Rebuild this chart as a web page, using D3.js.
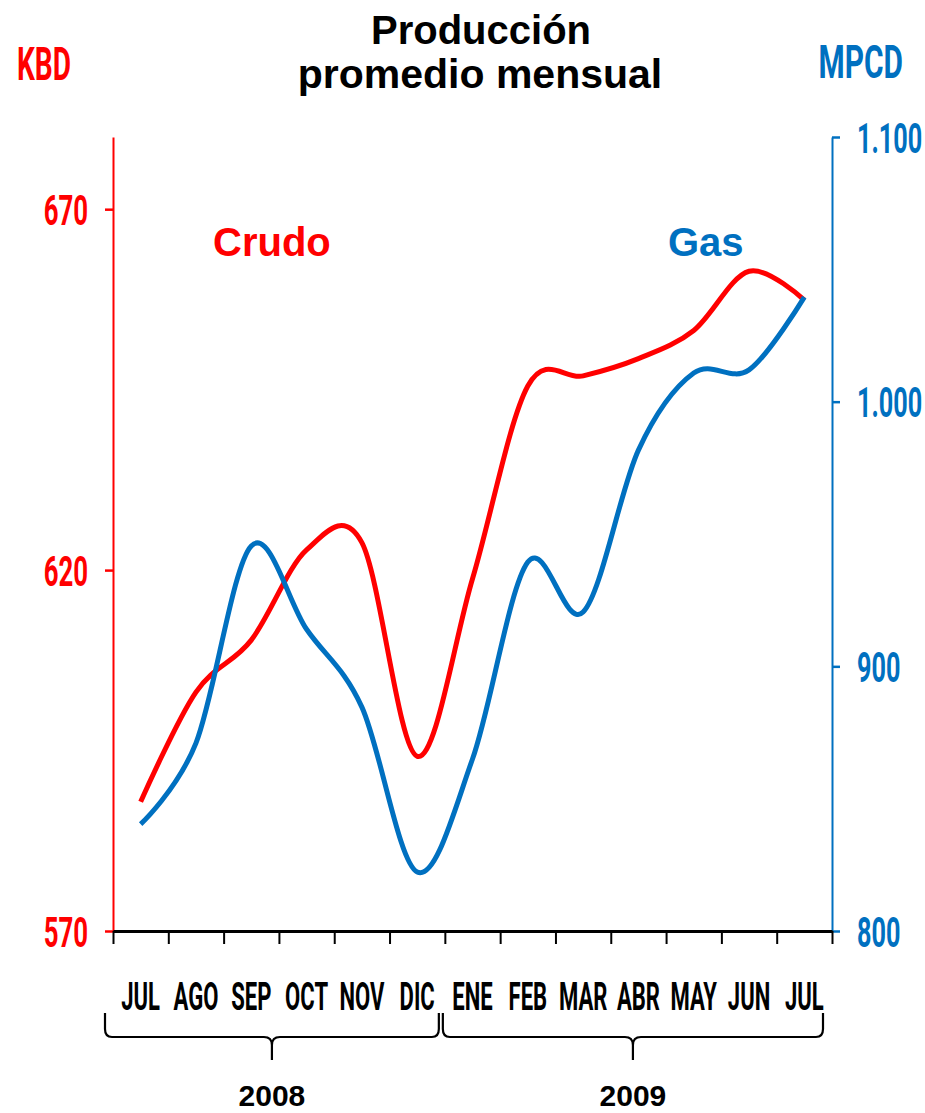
<!DOCTYPE html>
<html><head><meta charset="utf-8">
<script src="https://cdn.jsdelivr.net/npm/d3@7"></script>
<style>body{margin:0;background:#fff}svg{display:block}</style>
</head><body><svg id="c" width="925" height="1113"></svg>
<script>
// ---- data ----
const months = ["JUL","AGO","SEP","OCT","NOV","DIC","ENE","FEB","MAR","ABR","MAY","JUN","JUL"];
const years = ["2008","2009"];
const yearFirstMonth = [0, 6];
const yearLastMonth = [5, 12];
const crudo = [587.9, 603.1, 610.3, 622.8, 623.8, 594.2, 618.8, 645.5, 646.9, 649.3, 653.2, 661.4, 657.4];
const gas = [840.4, 871.0, 945.5, 914.0, 884.6, 822.3, 865.0, 939.4, 920.5, 981.7, 1010.8, 1012.0, 1039.5];
const leftTicks = [570, 620, 670];
const rightTicks = [800, 900, 1000, 1100];

const RED = "#FF0000", BLUE = "#0070C0";
const COND = "Roboto, 'DejaVu Sans', sans-serif";
const ARIAL = "'Liberation Sans', Arial, sans-serif";
const SX = 0.6;

const svg = d3.select("#c");
const L = 113, R = 832, T = 137, B = 931;

const idx = d3.range(months.length);
const x = d3.scaleBand().domain(idx).range([L, R]).paddingInner(0).paddingOuter(0);
const xb = d3.scaleLinear().domain([0, months.length]).range([L, R]);
const yL = d3.scaleLinear().domain([570, 680]).range([B, T]);
const yR = d3.scaleLinear().domain([800, 1100]).range([B, T]);
const loc = d3.formatLocale({decimal: ",", thousands: ".", grouping: [3], currency: ["$", ""]});
const fmt = loc.format(",");

// Title
svg.append("text").attr("x", 481).attr("y", 44).attr("text-anchor", "middle")
  .attr("font-family", ARIAL).attr("font-weight", "bold")
  .attr("font-size", 40).text("Producción");
svg.append("text").attr("x", 480).attr("y", 88).attr("text-anchor", "middle")
  .attr("font-family", ARIAL).attr("font-weight", "bold")
  .attr("font-size", 41).text("promedio mensual");

function ctext(px, py, txt, size, sx, anchor, fill) {
  svg.append("g").attr("transform", `translate(${px},${py}) scale(${sx},1)`)
    .append("text").attr("text-anchor", anchor).attr("font-family", COND)
    .attr("font-weight", "bold").attr("font-size", size).attr("fill", fill).text(txt);
}
ctext(17, 80, "KBD", 46, 0.61, "start", RED);
ctext(903, 78, "MPCD", 46, 0.65, "end", BLUE);

// Left axis
const gL = svg.append("g").attr("transform", `translate(${L},0)`)
  .call(d3.axisLeft(yL).tickValues(leftTicks).tickSize(8).tickSizeOuter(0).tickFormat(fmt));
gL.select(".domain").attr("stroke", RED).attr("stroke-width", 2);
gL.selectAll(".tick line").attr("stroke", RED).attr("stroke-width", 2.5);
gL.selectAll(".tick text").attr("fill", RED).attr("font-family", COND).attr("font-weight", "bold")
  .attr("font-size", 43).attr("transform", `scale(${SX},1)`).attr("x", -25 / SX).attr("dy", "0.36em");

// Right axis
const gR = svg.append("g").attr("transform", `translate(${R},0)`)
  .call(d3.axisRight(yR).tickValues(rightTicks).tickSize(8).tickSizeOuter(0).tickFormat(fmt));
gR.select(".domain").attr("stroke", BLUE).attr("stroke-width", 2);
gR.selectAll(".tick line").attr("stroke", BLUE).attr("stroke-width", 2.5);
gR.selectAll(".tick text").attr("fill", BLUE).attr("font-family", COND).attr("font-weight", "bold")
  .attr("font-size", 42).attr("transform", `scale(${SX},1)`).attr("x", 25 / SX).attr("dy", "0.36em");

// Lines
const cx = i => x(i) + x.bandwidth() / 2;
const lineC = d3.line().x((d, i) => cx(i)).y(d => yL(d)).curve(d3.curveCardinal.tension(0));
const lineG = d3.line().x((d, i) => cx(i)).y(d => yR(d)).curve(d3.curveCardinal.tension(0));
svg.append("path").datum(crudo).attr("d", lineC).attr("fill", "none").attr("stroke", RED)
  .attr("stroke-width", 5).attr("stroke-linejoin", "round");
svg.append("path").datum(gas).attr("d", lineG).attr("fill", "none").attr("stroke", BLUE)
  .attr("stroke-width", 5).attr("stroke-linejoin", "round");

// Series labels
svg.append("text").attr("x", 213).attr("y", 256).attr("font-family", ARIAL)
  .attr("font-weight", "bold").attr("font-size", 40).attr("fill", RED).text("Crudo");
svg.append("text").attr("x", 668).attr("y", 256).attr("font-family", ARIAL)
  .attr("font-weight", "bold").attr("font-size", 40).attr("fill", BLUE).text("Gas");

// Bottom axis: boundary ticks
const gB = svg.append("g").attr("transform", `translate(0,${B})`)
  .call(d3.axisBottom(xb).tickValues(d3.range(months.length + 1)).tickSize(13).tickSizeOuter(0).tickFormat(""));
gB.select(".domain").attr("stroke", "#000").attr("stroke-width", 3);
gB.selectAll(".tick line").attr("stroke", "#000").attr("stroke-width", 2);

// Month labels
const gM = svg.append("g").attr("transform", `translate(0,${B})`)
  .call(d3.axisBottom(x).tickSize(0).tickFormat(i => months[i]));
gM.select(".domain").remove();
gM.selectAll(".tick text").attr("fill", "#000").attr("font-family", COND).attr("font-weight", "bold")
  .attr("font-size", 38).attr("y", 79).attr("dy", 0).attr("transform", "scale(0.58,1)");

// Braces and years
years.forEach((yr, k) => {
  const x0 = x(yearFirstMonth[k]) - (k === 0 ? 8 : 2);
  const x1 = x(yearLastMonth[k]) + x.bandwidth() - (k === 0 ? 6 : 9);
  const xm = (x0 + x1) / 2;
  const yt = 1013, yh = 1037, yp = 1060;
  const p = `M${x0},${yt} L${x0},${yh - 8} Q${x0},${yh} ${x0 + 7},${yh} L${xm - 8},${yh} Q${xm},${yh} ${xm},${yh + 8} L${xm},${yp}` +
            ` M${xm},${yh + 8} Q${xm},${yh} ${xm + 8},${yh} L${x1 - 7},${yh} Q${x1},${yh} ${x1},${yh - 8} L${x1},${yt}`;
  svg.append("path").attr("d", p).attr("fill", "none").attr("stroke", "#000").attr("stroke-width", 2.2);
  svg.append("text").attr("x", xm).attr("y", 1106).attr("text-anchor", "middle")
    .attr("font-family", ARIAL).attr("font-weight", "bold")
    .attr("font-size", 30).attr("fill", "#000").text(yr);
});
</script></body></html>
